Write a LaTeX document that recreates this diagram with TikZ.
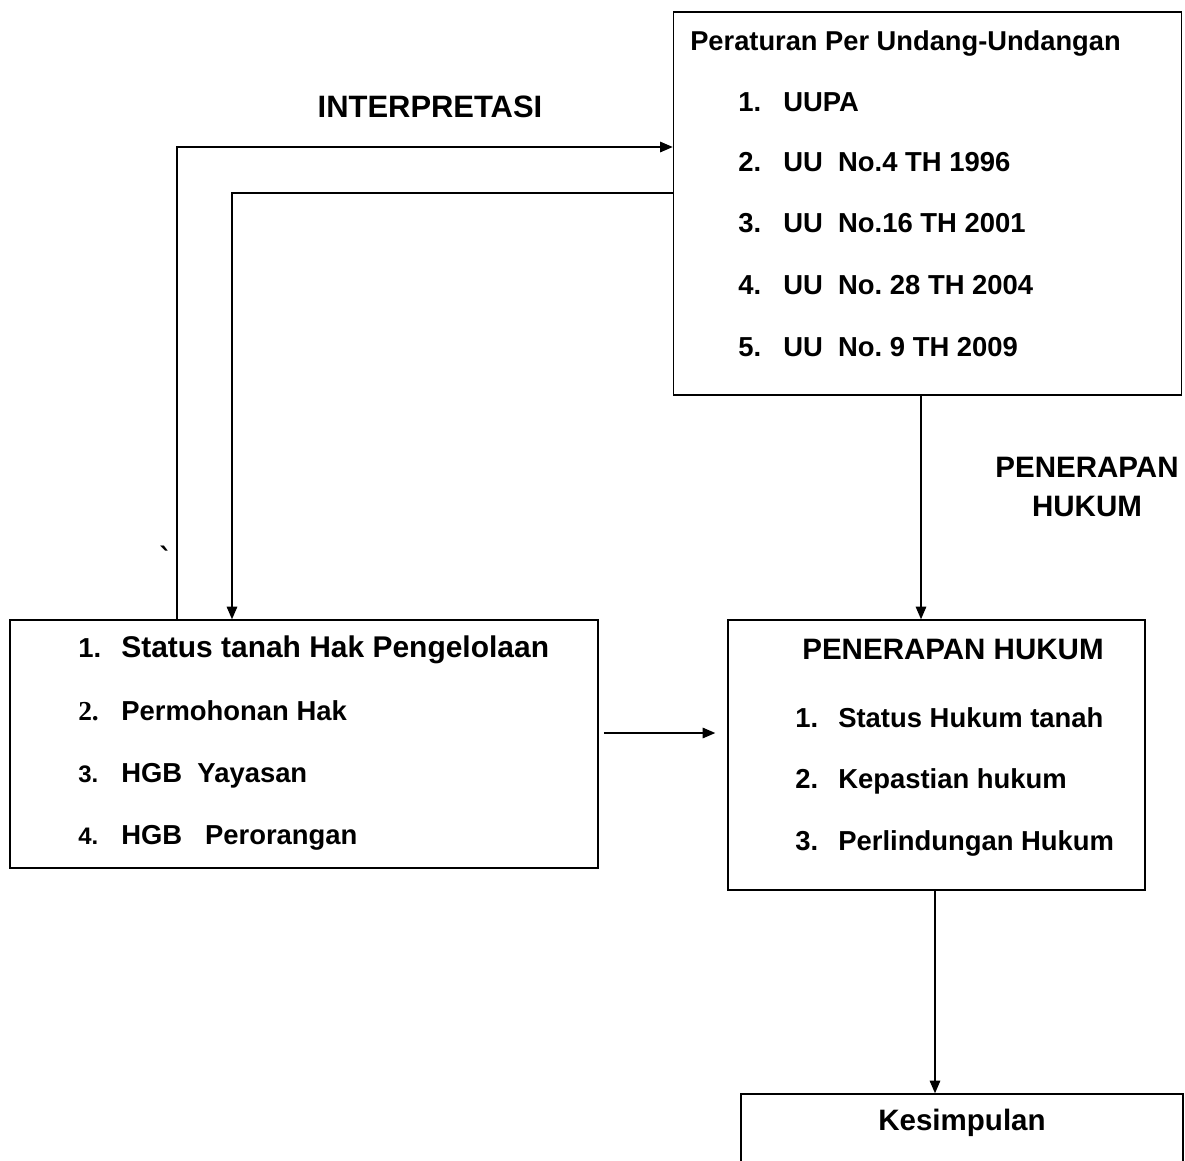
\documentclass[tikz,border=0pt]{standalone}
\usepackage{fontspec}
\setmainfont{Liberation Sans}
\newfontfamily\timesnum{Liberation Serif}
\newfontfamily\tickfont{DejaVu Sans}
\usetikzlibrary{arrows.meta, positioning}
\frenchspacing

\tikzset{
	box/.style={rectangle, draw, line width=1pt, inner sep=0pt},
	item/.style={anchor=base west, inner sep=0pt, font=\fontsize{19.5}{22}\selectfont\bfseries},
	lbl/.style={inner sep=0pt, font=\fontsize{21}{27.7}\selectfont\bfseries},
	link/.style={line width=1pt, ->},
}
\newcommand{\numitem}[3]{\makebox[#1][l]{#2}#3}

\begin{document}
\begin{tikzpicture}[x=0.025cm, y=-0.025cm, >={Triangle[length=9pt,width=7.5pt]}]
		\useasboundingbox (0,0) rectangle (1185,1160);
		% boxes
		\node[box, minimum width=12.7cm, minimum height=9.575cm] (uu) at (927.5,203.5) {};
		\node[box, minimum width=14.7cm, minimum height=6.2cm] (status) at (304,744) {};
		\node[box, minimum width=10.425cm, minimum height=6.75cm] (hukum) at (936.5,755) {};
		\node[box, minimum width=11.05cm, minimum height=2.4cm] (simpul) at (962,1142) {};

		% texts in the boxes
		\node[item, font=\fontsize{19.4}{24}\selectfont\bfseries] (judul) at (690,50) {Peraturan Per Undang-Undangan};
		\node[item] (uu1) at (738,111) {\numitem{32pt}{1.}{UUPA}};
		\node[item] (uu2) at (738,171) {\numitem{32pt}{2.}{UU\ \ No.4 TH 1996}};
		\node[item] (uu3) at (738,232) {\numitem{32pt}{3.}{UU\ \ No.16 TH 2001}};
		\node[item] (uu4) at (738,294) {\numitem{32pt}{4.}{UU\ \ No. 28 TH 2004}};
		\node[item] (uu5) at (738,356) {\numitem{32pt}{5.}{UU\ \ No. 9 TH 2009}};

		\node[item, font=\fontsize{21.3}{24}\selectfont\bfseries] (st1) at (78,657) {\numitem{30.6pt}{\fontsize{19.5}{22}\selectfont 1.}{Status tanah Hak Pengelolaan}};
		\node[item] (st2) at (78,720) {\numitem{30.6pt}{\timesnum 2.}{Permohonan Hak}};
		\node[item] (st3) at (78,782) {\numitem{30.6pt}{\fontsize{17}{20}\selectfont 3.}{HGB\ \ Yayasan}};
		\node[item] (st4) at (78,844) {\numitem{30.6pt}{\fontsize{17}{20}\selectfont 4.}{HGB\ \ \ Perorangan}};

		\node[lbl] (judulhk) at (953,649) {PENERAPAN HUKUM};
		\node[item] (hk1) at (795,727) {\numitem{30.6pt}{1.}{Status Hukum tanah}};
		\node[item] (hk2) at (795,788) {\numitem{30.6pt}{2.}{Kepastian hukum}};
		\node[item] (hk3) at (795,850) {\numitem{30.6pt}{3.}{Perlindungan Hukum}};

		\node[lbl] (kes) at (962,1123) {Kesimpulan};

		% labels
		\node[lbl, font=\fontsize{22}{26}\selectfont\bfseries] (interp) at (430,107) {INTERPRETASI};
		\node[lbl, align=center] (terap) at (1087,487) {PENERAPAN\\HUKUM};
		\node[inner sep=0pt, font=\fontsize{20}{22}\selectfont\tickfont\bfseries] (tick) at (166,557) {ˋ};

		% turning points
		\coordinate (c1) at (177,147);
		\coordinate (c2) at (232,193);
		\coordinate (c3) at (921,0);
		\coordinate (c4) at (0,733);
		\coordinate (c5) at (935,0);

		\draw[link] (status.north -| c1) |- (uu.west |- c1);
		\draw[link] (uu.west |- c2) -| (status.north -| c2);
		\draw[link] (uu.south -| c3) -- (hukum.north -| c3);
		\draw[link, shorten <=3.6pt, shorten >=8.5pt] (status.east |- c4) -- (hukum.west |- c4);
		\draw[link] (hukum.south -| c5) -- (simpul.north -| c5);
	\end{tikzpicture}
\end{document}
